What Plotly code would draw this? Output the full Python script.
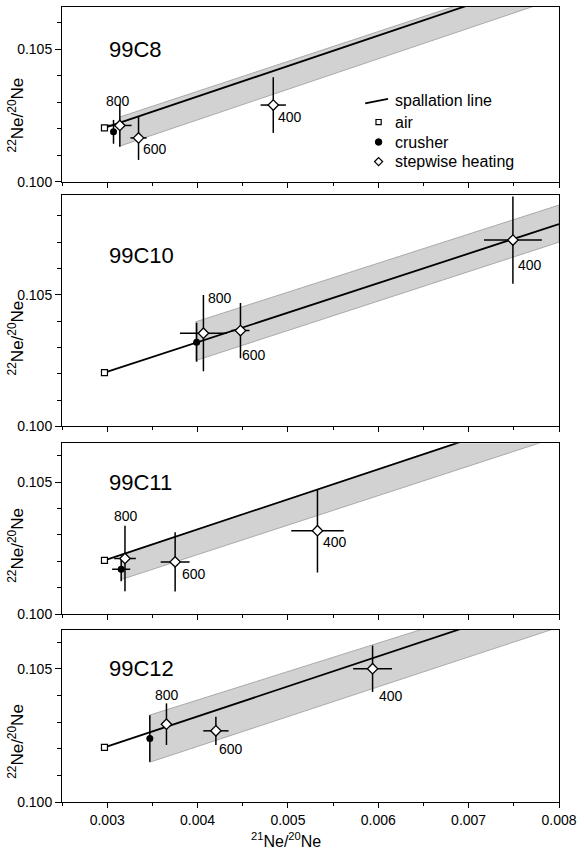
import plotly.graph_objects as go
from plotly.subplots import make_subplots

# ---------------- data ----------------
panels = ["99C8", "99C10", "99C11", "99C12"]
temps = ["800", "600", "400"]

air_x = [0.00297, 0.00297, 0.00297, 0.00297]
air_y = [0.10204, 0.10204, 0.10204, 0.10205]

crusher_x = [0.00307, 0.00399, 0.003155, 0.003472]
crusher_y = [0.10189, 0.10320, 0.10170, 0.10238]
crusher_xerr = [0.00003, 0.00003, 0.00010, 0.00003]
crusher_yerr = [0.00045, 0.00074, 0.00045, 0.00087]

step_x = [[0.00314, 0.003347, 0.004838],
          [0.004065, 0.004475, 0.00749],
          [0.003197, 0.003752, 0.005327],
          [0.003656, 0.004203, 0.005937]]
step_y = [[0.10213, 0.10166, 0.10290],
          [0.10354, 0.10364, 0.10708],
          [0.10211, 0.10198, 0.10316],
          [0.10292, 0.10267, 0.10500]]
step_xerr = [[0.00013, 0.00009, 0.00014],
             [0.00026, 0.00010, 0.00032],
             [0.00012, 0.00016, 0.00029],
             [0.00005, 0.00014, 0.000215]]
step_yerr = [[0.00080, 0.00083, 0.00105],
             [0.00145, 0.00105, 0.00166],
             [0.00124, 0.00112, 0.00158],
             [0.00078, 0.00053, 0.00087]]

# spallation line: from air to right edge
line_x_end = 0.008
line_y_end = [0.10782, 0.10769, 0.10776, 0.10772]

# uncertainty band (parallelogram): left x, then upper/lower at left and at right edge
band_x_left = [0.00314, 0.00398, 0.003155, 0.00347]
band_hi = [[0.10245, 0.10793], [0.103975, 0.10841], [0.10226, 0.10777], [0.10326, 0.10810]]
band_lo = [[0.10135, 0.10695], [0.10250, 0.10700], [0.10131, 0.10672], [0.10149, 0.10656]]

y_top = [0.1066, 0.1088, 0.10647, 0.10645]
x_range = [0.0025, 0.008]

legend_labels = ["spallation line", "air", "crusher", "stepwise heating"]
x_title = "<sup>21</sup>Ne/<sup>20</sup>Ne"
y_title = "<sup>22</sup>Ne/<sup>20</sup>Ne"

# ---------------- styling ----------------
FONT = "Liberation Sans, Arial, Helvetica, sans-serif"
BAND_FILL = "#d2d2d2"
BAND_EDGE = "#9a9a9a"
# pixel shifts for the temperature labels (per panel: 800, 600, 400)
LABEL_SHIFT = [[(-2, 24), (16, -11), (17, -12)],
               [(17, 35), (14, -24), (17, -25)],
               [(1, 42), (19, -12), (18, -11)],
               [(1, 29), (15, -18), (18, -27)]]
# panel domains in paper coordinates
DOMAINS = [[0.78, 1.0], [0.4725, 0.76375], [0.23625, 0.45125], [0.0, 0.21625]]
NAME_Y = [0.758, 0.739, 0.773, 0.775]       # panel-name vertical position (axis-domain fraction)
YTITLE_Y = [0.38, 0.38, 0.40, 0.35]         # y-title vertical position (axis-domain fraction)
LEG_X_SYM, LEG_X_TXT = 0.637, 0.667
LEG_ROWS = [0.466, 0.342, 0.228, 0.116]

fig = make_subplots(rows=4, cols=1)


def refs(r):
    return ("x" if r == 1 else f"x{r}"), ("y" if r == 1 else f"y{r}")


for i, name in enumerate(panels):
    r = i + 1
    xr, yr = refs(r)
    # band
    bx = [band_x_left[i], line_x_end, line_x_end, band_x_left[i], band_x_left[i]]
    by = [band_hi[i][0], band_hi[i][1], band_lo[i][1], band_lo[i][0], band_hi[i][0]]
    fig.add_trace(go.Scatter(x=bx, y=by, mode="lines", fill="toself",
                             fillcolor=BAND_FILL, line=dict(color=BAND_EDGE, width=0.8),
                             hoverinfo="skip", showlegend=False), row=r, col=1)
    # spallation line
    fig.add_trace(go.Scatter(x=[air_x[i], line_x_end], y=[air_y[i], line_y_end[i]],
                             mode="lines", line=dict(color="black", width=1.8),
                             showlegend=False), row=r, col=1)
    # air
    fig.add_trace(go.Scatter(x=[air_x[i]], y=[air_y[i]], mode="markers",
                             marker=dict(symbol="square", size=6, color="white",
                                         line=dict(color="black", width=1.2)),
                             showlegend=False), row=r, col=1)
    # crusher
    fig.add_trace(go.Scatter(x=[crusher_x[i]], y=[crusher_y[i]], mode="markers",
                             marker=dict(symbol="circle", size=7, color="black"),
                             error_x=dict(type="data", array=[crusher_xerr[i]], width=0,
                                          thickness=1.5, color="black"),
                             error_y=dict(type="data", array=[crusher_yerr[i]], width=0,
                                          thickness=1.5, color="black"),
                             showlegend=False), row=r, col=1)
    # stepwise heating
    fig.add_trace(go.Scatter(x=step_x[i], y=step_y[i], mode="markers",
                             marker=dict(symbol="diamond", size=8, color="white",
                                         line=dict(color="black", width=1.3)),
                             error_x=dict(type="data", array=step_xerr[i], width=0,
                                          thickness=1.5, color="black"),
                             error_y=dict(type="data", array=step_yerr[i], width=0,
                                          thickness=1.5, color="black"),
                             showlegend=False), row=r, col=1)
    # temperature labels
    for j, t in enumerate(temps):
        dx, dy = LABEL_SHIFT[i][j]
        fig.add_annotation(x=step_x[i][j], y=step_y[i][j], xref=xr, yref=yr,
                           text=t, showarrow=False, xshift=dx, yshift=dy,
                           font=dict(size=14, color="black", family=FONT))
    # panel name
    fig.add_annotation(x=0.003, y=NAME_Y[i], xref=xr, yref=f"{yr} domain",
                       text=name, showarrow=False, xanchor="left", yanchor="middle",
                       font=dict(size=22, color="black", family=FONT))
    # y title
    fig.add_annotation(x=0, y=YTITLE_Y[i], xref=f"{xr} domain", yref=f"{yr} domain",
                       text=y_title, showarrow=False, textangle=-90,
                       xanchor="center", yanchor="middle", xshift=-46,
                       font=dict(size=17, color="black", family=FONT))

    xa = dict(range=x_range, tickmode="linear", tick0=0.003, dtick=0.001,
              tickformat=".3f", ticks="outside", ticklen=5, tickwidth=1, tickcolor="black",
              minor=dict(dtick=0.0005, tick0=0.0025, ticks="outside", ticklen=3,
                         tickcolor="black"),
              showline=True, linecolor="black", linewidth=1, mirror=True,
              showgrid=False, zeroline=False, showticklabels=(r == 4),
              tickfont=dict(size=14, color="black", family=FONT), domain=[0, 1])
    ya = dict(range=[0.100, y_top[i]], tickmode="linear", tick0=0.100, dtick=0.005,
              tickformat=".3f", ticks="outside", ticklen=6, tickwidth=1, tickcolor="black",
              minor=dict(dtick=0.001, tick0=0.100, ticks="outside", ticklen=4,
                         tickcolor="black"),
              showline=True, linecolor="black", linewidth=1, mirror=True,
              showgrid=False, zeroline=False, domain=DOMAINS[i],
              tickfont=dict(size=14, color="black", family=FONT))
    fig.update_xaxes(xa, row=r, col=1)
    fig.update_yaxes(ya, row=r, col=1)

# x title
fig.add_annotation(x=0.45, y=0, xref="x4 domain", yref="y4 domain", text=x_title,
                   showarrow=False, xanchor="center", yanchor="top", yshift=-26,
                   font=dict(size=16, color="black", family=FONT))

# ---- legend (panel 1) ----
shapes = []
shapes.append(dict(type="line", xref="x domain", yref="y domain",
                   x0=0.610, y0=LEG_ROWS[0] - 0.017, x1=0.656, y1=LEG_ROWS[0] + 0.009,
                   line=dict(color="black", width=1.8)))
shapes.append(dict(type="rect", xref="x domain", yref="y domain",
                   xsizemode="pixel", ysizemode="pixel",
                   xanchor=LEG_X_SYM, yanchor=LEG_ROWS[1], x0=-2.6, x1=2.6, y0=-2.6, y1=2.6,
                   line=dict(color="black", width=1.2), fillcolor="white"))
shapes.append(dict(type="circle", xref="x domain", yref="y domain",
                   xsizemode="pixel", ysizemode="pixel",
                   xanchor=LEG_X_SYM, yanchor=LEG_ROWS[2], x0=-3.3, x1=3.3, y0=-3.3, y1=3.3,
                   line=dict(color="black", width=1), fillcolor="black"))
shapes.append(dict(type="path", xref="x domain", yref="y domain",
                   xsizemode="pixel", ysizemode="pixel",
                   xanchor=LEG_X_SYM, yanchor=LEG_ROWS[3],
                   path="M 0 4 L 4 0 L 0 -4 L -4 0 Z",
                   line=dict(color="black", width=1.3), fillcolor="white"))
for k, lab in enumerate(legend_labels):
    fig.add_annotation(x=LEG_X_TXT, y=LEG_ROWS[k], xref="x domain", yref="y domain",
                       text=lab, showarrow=False, xanchor="left", yanchor="middle",
                       font=dict(size=16, color="black", family=FONT))

fig.update_layout(
    width=584, height=851,
    margin=dict(l=62, r=25, t=7, b=49),
    paper_bgcolor="white", plot_bgcolor="white",
    font=dict(family=FONT, color="black"),
    showlegend=False,
    shapes=shapes,
)

fig.write_html("out.html", config={"displayModeBar": False},
               post_script="document.body.style.margin='0px';")
